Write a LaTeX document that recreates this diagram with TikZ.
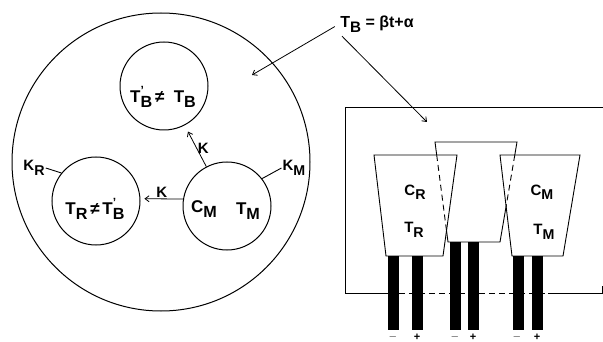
\documentclass[tikz,border=0pt]{standalone}
\usepackage{fontspec}
\setmainfont{Liberation Sans}
\usepackage{graphicx}
\usetikzlibrary{arrows.meta, positioning, calc}
\newcommand\lowix[1]{\raisebox{-0.55ex}{\scalebox{0.95}{#1}}}
\newcommand\hiprime{\rlap{\raisebox{0.9ex}{\scalebox{0.7}{'}}}}
\tikzset{
    bath/.style = {circle, draw, line width=1pt, minimum size=298pt, inner sep=0pt},
    cell/.style = {circle, draw, line width=1pt, minimum size=88pt, inner sep=0pt},
    bigtxt/.style = {font=\fontsize{17}{19}\selectfont\bfseries, inner sep=1pt},
    txt/.style = {font=\fontsize{15}{17}\selectfont\bfseries, inner sep=1pt},
    sgn/.style = {font=\fontsize{11}{11}\selectfont\bfseries, inner sep=0pt},
    flow/.style = {line width=0.8pt, ->, >={Straight Barb[length=4pt,width=6pt]}},
    wire/.style = {line width=0.9pt},
    hidden/.style = {wire, dash pattern=on 6pt off 4pt}
}
\begin{document}
\begin{tikzpicture}[x=1pt, y=-1pt]
\useasboundingbox (0,0) rectangle (603,342);

% bath with the three cells
\node[bath] (bath) at (161,162) {};
\node[cell] (top) at (164,86) {};
\node[cell] (rcell) at (96,201) {};
\node[cell] (mcell) at (227,206) {};

\node[bigtxt] (topeq) at (163,97) {T\hiprime\lowix{B}\,≠\; T\lowix{B}};
\node[bigtxt] (reqn) at (95,209) {T\lowix{R}\,≠\,T\hiprime\lowix{B}};
\node[bigtxt] (cm) at (204,209) {C\lowix{M}};
\node[bigtxt] (tm) at (248,211) {T\lowix{M}};

\draw[flow, shorten >=4pt] (mcell.171) -- node[txt, above, pos=0.5] (k1) {K} (rcell.3);
\draw[flow, shorten >=7pt] (mcell) -- node[txt, right, pos=0.45] (k2) {K} (top);

\node[txt] (km) at (294,168) {K\lowix{M}};
\node[txt] (kr) at (34,168) {K\lowix{R}};
\draw[wire] (mcell.38) -- (km.west);
\draw[wire] (rcell.141) -- (kr.east);

% bath temperature
\node[txt, font=\fontsize{16}{18}\selectfont\bfseries] (tb) at (377,24) {T\lowix{B} = βt+α};
\coordinate (inbath) at (252,75);
\coordinate (inbox) at (427,122);
\draw[flow, shorten <=5pt] (tb.west) -- (inbath);
\draw[flow, shorten <=4pt] (tb.south west) -- (inbox);

% calorimeter block
\draw[wire] (603,107) -- (345,107) -- (345,293) -- (388,293);
\draw[hidden] (399,293) -- (546,293);
\draw[wire] (548,293) -- (602,293) -- (602,286);

\coordinate (l1) at (374,155); \coordinate (l2) at (457,155);
\coordinate (l3) at (443,256); \coordinate (l4) at (386,256);
\coordinate (m1) at (435,142); \coordinate (m2) at (517,142);
\coordinate (m3) at (500,242); \coordinate (m4) at (448,242);
\coordinate (r1) at (500,155); \coordinate (r2) at (580,155);
\coordinate (r3) at (563,256); \coordinate (r4) at (512,256);

\draw[wire] (l1) -- (l2) -- (l3) -- (l4) -- cycle;
\draw[wire] (r1) -- (r2) -- (r3) -- (r4) -- cycle;
\coordinate (ml) at (intersection of m1--m4 and l1--l2);
\coordinate (mlx) at (intersection of m1--m4 and l2--l3);
\coordinate (mr) at (intersection of m2--m3 and r1--r2);
\coordinate (mrx) at (intersection of m2--m3 and r1--r4);
\draw[wire] (ml) -- (m1) -- (m2) -- (mr);
\draw[wire] (mlx) -- (m4) -- (m3) -- (mrx);
\draw[hidden] (ml) -- (mlx);
\draw[hidden] (mr) -- (mrx);

\node[txt] (cr) at (415,192) {C\lowix{R}};
\node[txt] (tr) at (414,230) {T\lowix{R}};
\node[txt] (cmb) at (542,192) {C\lowix{M}};
\node[txt] (tmb) at (544,232) {T\lowix{M}};

% leads
\foreach \x/\t in {388/256, 412/256, 450/242, 468/242, 513/256, 532/256}
    \fill (\x,\t) rectangle ++(11,330-\t);
\foreach \x/\s [count=\i] in {393/$-$, 417/+, 455/$-$, 473/+, 517/$-$, 537/+}
    \node[sgn] (s\i) at (\x,337) {\s};
\end{tikzpicture}
\end{document}
